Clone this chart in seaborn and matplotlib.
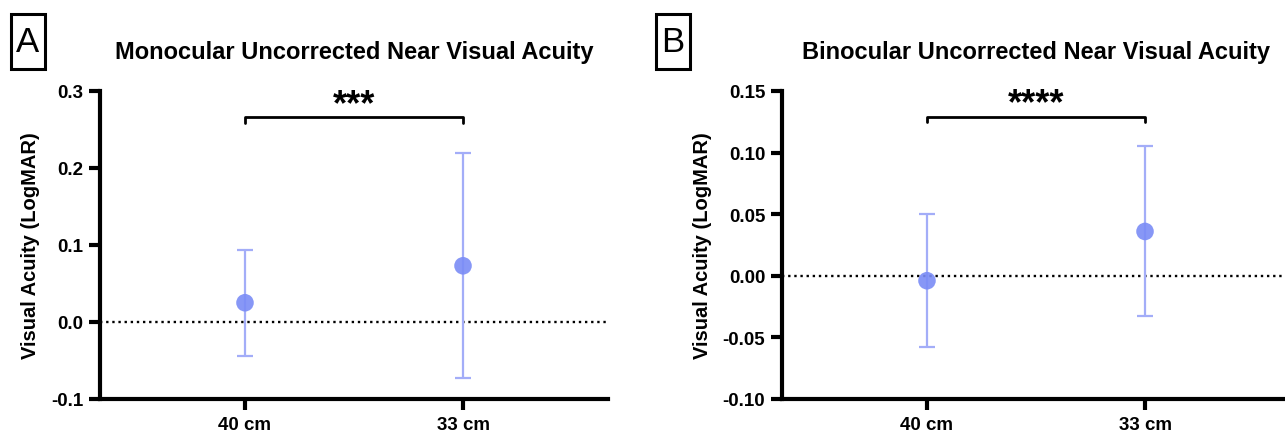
import matplotlib
matplotlib.use("Agg")
import matplotlib.pyplot as plt
import matplotlib.patches as mpatches
import seaborn as sns
import pandas as pd

# ---- data ----
categories = ["40 cm", "33 cm"]
mono_mean = [0.025, 0.073]
mono_sd = [0.069, 0.146]
bino_mean = [-0.004, 0.036]
bino_sd = [0.054, 0.069]
mono_sig = "***"
bino_sig = "****"
titles = ["Monocular Uncorrected Near Visual Acuity",
          "Binocular Uncorrected Near Visual Acuity"]
panel_labels = ["A", "B"]
ylabel = "Visual Acuity (LogMAR)"
mono_ticks = [-0.1, 0.0, 0.1, 0.2, 0.3]
bino_ticks = [-0.10, -0.05, 0.00, 0.05, 0.10, 0.15]

sns.set_style("ticks")
plt.rcParams['font.family'] = ['Liberation Sans', 'DejaVu Sans']
for k in ["text.color", "axes.labelcolor", "xtick.color", "ytick.color", "axes.edgecolor"]:
    plt.rcParams[k] = "black"

W, H = 1285, 439
fig = plt.figure(figsize=(W / 100, H / 100), dpi=100)

def px_axes(l, r, t, b):
    return fig.add_axes([l / W, 1 - b / H, (r - l) / W, (b - t) / H])

axA = px_axes(100, 608, 92, 400)
axB = px_axes(782, 1290, 92, 400)

dot_color = "#7a8cf6"
err_color = "#a3adf8"

def draw(ax, means, sds, ticks, fmt, sig, bracket_y, title):
    df = pd.DataFrame({"cond": categories, "val": means})
    ax.axhline(0, color="black", ls=(0, (1, 1.6)), lw=1.7, zorder=1)
    ax.errorbar(range(len(categories)), means, yerr=sds, fmt="none",
                ecolor=err_color, elinewidth=1.6, capsize=6, capthick=1.6, zorder=2)
    sns.scatterplot(data=df, x="cond", y="val", ax=ax, s=160, color=dot_color,
                    alpha=0.9, edgecolor="none", zorder=3, legend=False)
    ax.set_xlim(-0.665, 1.665)
    ax.set_ylim(ticks[0], ticks[-1])
    ax.set_yticks(ticks)
    ax.set_yticklabels([fmt.format(t) for t in ticks])
    ax.set_xlabel("")
    ax.set_ylabel(ylabel, fontsize=14.5, fontweight="bold", labelpad=8)
    for lab in ax.get_xticklabels() + ax.get_yticklabels():
        lab.set_fontweight("bold")
        lab.set_fontsize(13.5)
    ax.tick_params(axis="both", width=3, length=8, direction="out", pad=4)
    for s in ["top", "right"]:
        ax.spines[s].set_visible(False)
    for s in ["left", "bottom"]:
        ax.spines[s].set_linewidth(3)
        ax.spines[s].set_capstyle("projecting")
    rng = ticks[-1] - ticks[0]
    drop = rng * 0.018
    ax.plot([0, 0, 1, 1], [bracket_y - drop, bracket_y, bracket_y, bracket_y - drop],
            color="black", lw=2, clip_on=False)
    ax.text(0.5, bracket_y - rng * 0.015, sig, ha="center", va="bottom",
            fontsize=26, fontweight="bold")
    ax.set_title(title, fontsize=17, fontweight="bold", pad=24)

draw(axA, mono_mean, mono_sd, mono_ticks, "{:.1f}", mono_sig, 0.266, titles[0])
draw(axB, bino_mean, bino_sd, bino_ticks, "{:.2f}", bino_sig, 0.129, titles[1])

for (x0, lab) in zip([11, 656], panel_labels):
    fig.patches.append(mpatches.Rectangle((x0 / W, 1 - 70 / H), 34 / W, 55 / H,
                                          transform=fig.transFigure, fill=False,
                                          ec="black", lw=2.2))
    fig.text((x0 + 17) / W, 1 - 43 / H, lab, ha="center", va="center", fontsize=25)

fig.savefig("out.png", dpi=100)
